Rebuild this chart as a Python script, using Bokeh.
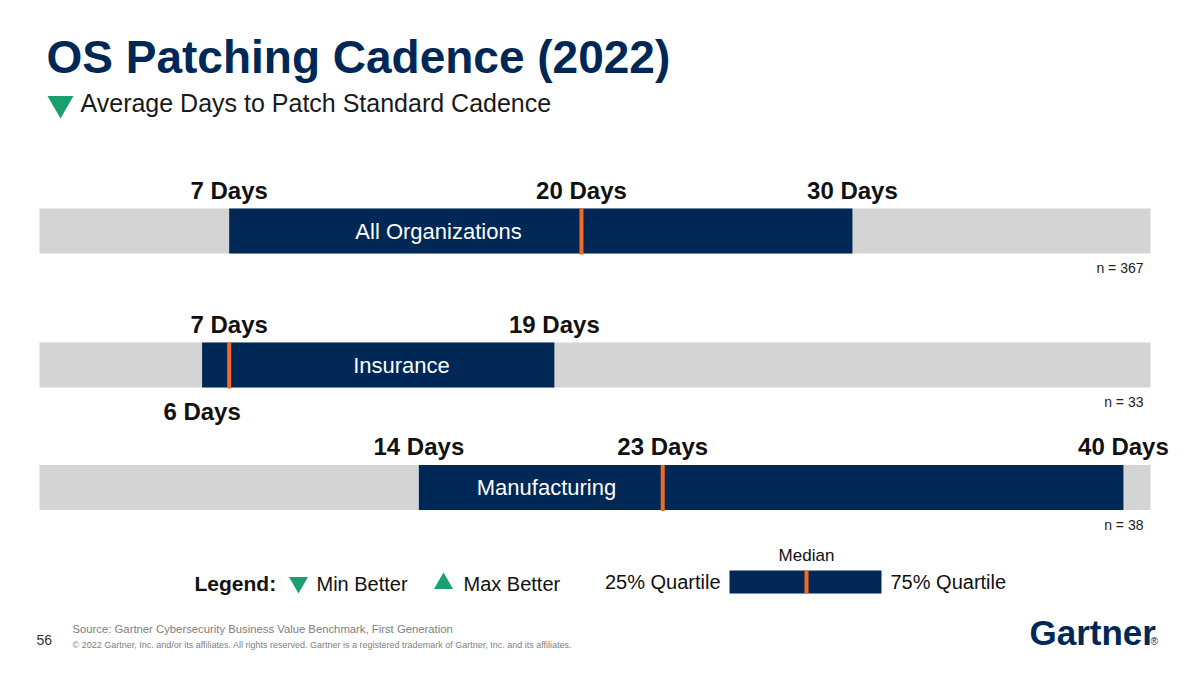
from bokeh.plotting import figure
from bokeh.models import Range1d
from bokeh.core.properties import value
from bokeh.embed import file_html
from bokeh.resources import INLINE

# ---------------- data ----------------
categories = ["All Organizations", "Insurance", "Manufacturing"]
q1_days = [7, 6, 14]          # 25% quartile
median_days = [20, 7, 23]     # median
q3_days = [30, 19, 40]        # 75% quartile
sample_sizes = [367, 33, 38]
scale_max_days = 41           # extent of the grey track

title_text = "OS Patching Cadence (2022)"
subtitle_text = "Average Days to Patch Standard Cadence"
source_text = "Source: Gartner Cybersecurity Business Value Benchmark, First Generation"
copyright_text = ("\u00a9 2022 Gartner, Inc. and/or its affiliates. All rights reserved. "
                  "Gartner is a registered trademark of Gartner, Inc. and its affiliates.")

# ---------------- styling / layout ----------------
NAVY = "#002856"
ORANGE = "#F26B21"
GREY = "#D4D4D4"
GREEN = "#18A06E"
FONT = value("Liberation Sans")

W, H = 1184, 662
ORIGIN = 0   # screen offset of the figure
track_left_px, track_right_px = 39, 1150
ppd = (track_right_px - track_left_px) / scale_max_days
xs = -(track_left_px - ORIGIN) / ppd
xe = xs + W / ppd

row_y = [230.5, 364.5, 487]
bar_h = 45
q1_below = [False, True, False]
bar_text_px = [438, 401, 546]

p = figure(width=W, height=H, x_range=Range1d(xs, xe), y_range=Range1d(ORIGIN + H, ORIGIN),
           output_backend="svg", toolbar_location=None, min_border=0,
           x_axis_type=None, y_axis_type=None, background_fill_color="white",
           border_fill_color="white")
p.extra_x_ranges = {"px": Range1d(ORIGIN, ORIGIN + W)}
p.grid.visible = False
p.outline_line_color = None

# grey tracks
p.hbar(y=row_y, left=[0] * 3, right=[scale_max_days] * 3, height=bar_h,
       color=GREY, line_color=None)
# interquartile bars
p.hbar(y=row_y, left=q1_days, right=q3_days, height=bar_h, color=NAVY, line_color=None)
# medians
p.segment(x0=median_days, x1=median_days,
          y0=[y - bar_h / 2 for y in row_y], y1=[y + bar_h / 2 + 1 for y in row_y],
          line_color=ORANGE, line_width=4)

# day labels
lx, ly, lt = [], [], []
for i in range(3):
    for v, below in ((q1_days[i], q1_below[i]), (median_days[i], False), (q3_days[i], False)):
        lx.append(v)
        ly.append(row_y[i] + 46 if below else row_y[i] - 41)
        lt.append(f"{v} Days")
p.text(x=lx, y=ly, text=lt, text_font=FONT, text_font_style="bold",
       text_font_size="24px", text_align="center", text_baseline="middle", text_color="#111111")

# category names inside bars
p.text(x=bar_text_px, y=row_y, text=categories, x_range_name="px", text_font=FONT,
       text_font_size="22px", text_align="center", text_baseline="middle", text_color="white")

# sample sizes
p.text(x=[1143] * 3, y=[y + 37 for y in row_y], text=[f"n = {n}" for n in sample_sizes],
       x_range_name="px", text_font=FONT, text_font_size="14px", text_align="right",
       text_baseline="middle", text_color="#222222")

# title & subtitle
p.text(x=[46], y=[56], text=[title_text], x_range_name="px", text_font=FONT,
       text_font_style="bold", text_font_size="46px", text_align="left",
       text_baseline="middle", text_color=NAVY)
p.scatter(x=[60], y=[103], marker="inverted_triangle", size=26, color=GREEN,
          line_color=None, x_range_name="px")
p.text(x=[80], y=[102], text=[subtitle_text], x_range_name="px", text_font=FONT,
       text_font_size="25px", text_align="left", text_baseline="middle", text_color="#1a1a1a")

# legend
p.text(x=[194], y=[583], text=["Legend:"], x_range_name="px", text_font=FONT,
       text_font_style="bold", text_font_size="21px", text_align="left",
       text_baseline="middle", text_color="#111111")
p.scatter(x=[298], y=[582], marker="inverted_triangle", size=19, color=GREEN,
          line_color=None, x_range_name="px")
p.scatter(x=[443], y=[583], marker="triangle", size=19, color=GREEN,
          line_color=None, x_range_name="px")
p.text(x=[316, 463], y=[583, 583], text=["Min Better", "Max Better"], x_range_name="px",
       text_font=FONT, text_font_size="20px", text_align="left", text_baseline="middle",
       text_color="#111111")
p.hbar(y=[581.5], left=[729], right=[881], height=23, color=NAVY, line_color=None,
       x_range_name="px")
p.segment(x0=[806], x1=[806], y0=[570], y1=[593], line_color=ORANGE, line_width=4,
          x_range_name="px")
p.text(x=[720], y=[581], text=["25% Quartile"], x_range_name="px", text_font=FONT,
       text_font_size="20px", text_align="right", text_baseline="middle", text_color="#111111")
p.text(x=[890], y=[581], text=["75% Quartile"], x_range_name="px", text_font=FONT,
       text_font_size="20px", text_align="left", text_baseline="middle", text_color="#111111")
p.text(x=[806], y=[555], text=["Median"], x_range_name="px", text_font=FONT,
       text_font_size="17px", text_align="center", text_baseline="middle", text_color="#111111")

# footer
p.text(x=[72], y=[628], text=[source_text], x_range_name="px", text_font=FONT,
       text_font_size="11.3px", text_align="left", text_baseline="middle", text_color="#808080")
p.text(x=[72], y=[644], text=[copyright_text], x_range_name="px", text_font=FONT,
       text_font_size="9px", text_align="left", text_baseline="middle", text_color="#808080")
p.text(x=[36], y=[639], text=["56"], x_range_name="px", text_font=FONT,
       text_font_size="14px", text_align="left", text_baseline="middle", text_color="#333333")
p.text(x=[1029], y=[632], text=["Gartner"], x_range_name="px", text_font=FONT,
       text_font_style="bold", text_font_size="35px", text_align="left",
       text_baseline="middle", text_color=NAVY)
p.text(x=[1150], y=[641], text=["\u00ae"], x_range_name="px", text_font=FONT,
       text_font_size="10px", text_align="left", text_baseline="middle", text_color=NAVY)

open("out.html", "w").write(file_html(p, INLINE))
